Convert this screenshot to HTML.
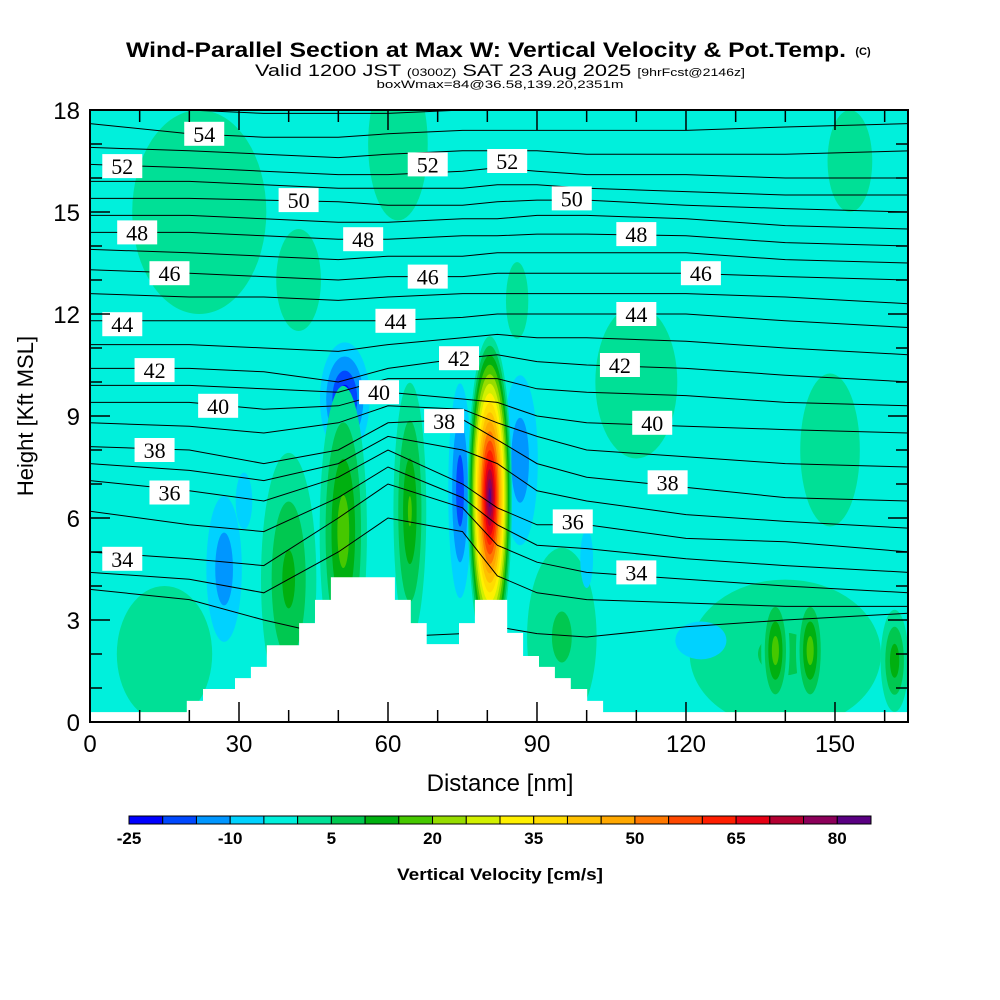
<!DOCTYPE html>
<html><head><meta charset="utf-8"><style>
body{margin:0;background:#fff;}
svg{display:block;font-family:"Liberation Sans",sans-serif;}
</style></head><body>
<svg id="chart" width="1000" height="1000" viewBox="0 0 1000 1000">
<rect width="1000" height="1000" fill="#fff"/>
<text x="486" y="57" text-anchor="middle" font-size="21" font-weight="bold" textLength="720" lengthAdjust="spacingAndGlyphs">Wind-Parallel Section at Max W: Vertical Velocity &amp; Pot.Temp.</text>
<text x="863" y="55" text-anchor="middle" font-size="11" font-weight="bold">(C)</text>
<text x="500" y="76" text-anchor="middle" font-size="17" textLength="490" lengthAdjust="spacingAndGlyphs">Valid 1200 JST <tspan font-size="11">(0300Z)</tspan> SAT 23 Aug 2025 <tspan font-size="11">[9hrFcst@2146z]</tspan></text>
<text x="500" y="88" text-anchor="middle" font-size="11" textLength="247" lengthAdjust="spacingAndGlyphs">boxWmax=84@36.58,139.20,2351m</text>
<defs><clipPath id="plotclip"><rect x="90" y="110" width="818" height="612"/></clipPath></defs>
<g id="fills" clip-path="url(#plotclip)"></g>
<g id="contours" clip-path="url(#plotclip)"></g>
<g id="terrain"></g>
<g id="labels"></g>
<g id="axes"></g>
<g id="colorbar"></g>
<text x="500" y="791" text-anchor="middle" font-size="24">Distance [nm]</text>
<text transform="translate(33,416) rotate(-90)" text-anchor="middle" font-size="22">Height [Kft MSL]</text>
<text x="500" y="880" text-anchor="middle" font-size="17" font-weight="bold" textLength="206" lengthAdjust="spacingAndGlyphs">Vertical Velocity [cm/s]</text>
</svg>
<script>
// ---- data ----
const xTicks=[0,30,60,90,120,150];
const yTicks=[0,3,6,9,12,15,18];
const cbLevels=[-25,-20,-15,-10,-5,0,5,10,15,20,25,30,35,40,45,50,55,60,65,70,75,80,85];
const cbLabels=[-25,-10,5,20,35,50,65,80];
const cbColors=["#0000ff","#0048ff","#0096ff","#00d2ff","#00f0dc","#00e096","#00c850","#00b010","#46c800","#96dc00","#d2f000","#fff000","#ffdc00","#ffc000","#ffa800","#ff7800","#ff4800","#ff1e00","#e60014","#b40032","#8c005a","#5a0082"];
const bgValue=-1;
// blobs: centre x (nm), centre z (kft), radius x (nm), radius z (kft), peak w (cm/s)
const blobX=[22,62,110,149,42,15,153,86,2,140,95,123,100,27,31,51.3,40,51,64.4,74.5,86.6,138,145,162,80.5];
const blobZ=[15,17,10,8,13,2,16.5,12.4,15,2,2.5,2.4,4.8,4.5,6.5,9.5,4.2,5.6,6.2,6.8,7.7,2.1,2.1,1.8,6.6];
const blobRX=[18,8,11,8,6,12,6,3,3,22,8,12,3,5,3,6,6,5,3.5,3,5,3,3,3,4.5];
const blobRZ=[4,3,3,3,2,2.5,2,1.5,3,2.5,3,1.3,2,3,1.5,2,4,4.5,4,4,3.5,1.8,1.8,1.6,4.8];
const blobW=[3,3,3,3,3,4,3,3,-3,7,7,-8,-8,-15,-10,-25,13,20,17,-20,-15,20,20,15,85];
// potential temperature contours: heights (kft) at profile x positions (nm)
const profX=[0,20,35,50,60,75,82,90,100,120,140,165];
const thetaLevels=[32,33,34,35,36,37,38,39,40,41,42,43,44,45,46,47,48,49,50,51,52,53,54,55];
const thetaZ=[
[3.9,3.6,3.0,2.5,2.5,2.6,2.8,2.6,2.5,2.8,3.0,3.2],
[4.4,4.2,3.8,5.0,6.0,5.6,4.3,3.8,3.6,3.5,3.4,3.4],
[5.0,4.8,4.6,6.0,7.0,6.3,5.2,4.7,4.4,4.2,4.0,3.8],
[6.2,5.8,5.6,6.6,7.5,6.6,5.8,5.2,5.1,4.8,4.6,4.4],
[7.1,6.8,6.5,7.2,8.0,7.0,6.3,5.8,5.8,5.4,5.3,5.0],
[7.6,7.4,7.1,7.6,8.4,8.0,7.6,6.8,6.5,6.1,5.9,5.7],
[8.1,8.0,7.6,8.0,8.8,8.9,8.3,7.6,7.2,6.9,6.6,6.5],
[8.8,8.7,8.5,8.8,9.3,9.2,8.8,8.4,8.0,7.8,7.6,7.5],
[9.4,9.4,9.2,9.3,9.7,9.5,9.4,9.0,8.8,8.7,8.6,8.5],
[9.9,9.9,9.8,9.7,10.1,10.1,10.1,9.8,9.7,9.6,9.4,9.3],
[10.4,10.4,10.3,10.0,10.4,10.7,10.8,10.6,10.5,10.4,10.2,10.0],
[11.1,11.1,11.0,10.9,11.1,11.3,11.4,11.3,11.3,11.2,11.0,10.8],
[11.8,11.8,11.8,11.8,11.8,11.9,12.0,12.0,12.0,12.0,11.8,11.6],
[12.6,12.5,12.5,12.4,12.5,12.6,12.6,12.6,12.6,12.6,12.5,12.3],
[13.3,13.2,13.1,13.0,13.1,13.1,13.2,13.2,13.2,13.2,13.1,13.0],
[13.9,13.8,13.7,13.6,13.7,13.7,13.8,13.8,13.8,13.8,13.6,13.5],
[14.4,14.4,14.3,14.2,14.2,14.3,14.3,14.35,14.35,14.3,14.1,14.0],
[14.9,14.9,14.8,14.7,14.7,14.8,14.8,14.9,14.9,14.8,14.6,14.5],
[15.4,15.4,15.35,15.3,15.2,15.2,15.3,15.35,15.35,15.2,15.1,15.0],
[15.9,15.9,15.8,15.7,15.7,15.7,15.8,15.8,15.7,15.6,15.5,15.5],
[16.4,16.3,16.2,16.1,16.1,16.2,16.3,16.2,16.1,16.1,16.0,16.0],
[16.9,16.8,16.7,16.6,16.7,16.8,16.8,16.8,16.7,16.7,16.7,16.8],
[17.6,17.3,17.2,17.2,17.3,17.4,17.4,17.4,17.4,17.4,17.5,17.6],
[18.2,18.0,17.9,17.9,17.9,18.0,18.0,18.0,18.0,18.0,18.1,18.2]
];
const labelVal=[54,52,52,52,50,50,48,48,48,46,46,46,44,44,44,42,42,42,40,40,40,38,38,38,36,36,34,34];
const labelX=[23,6.5,68,84,42,97,9.5,55,110,16,68,123,6.5,61.5,110,13,74.3,106.7,25.8,58.2,113.2,13,71.3,116.3,16,97.2,6.5,110];
const labelZ=[17.3,16.35,16.4,16.5,15.35,15.4,14.4,14.2,14.35,13.2,13.1,13.2,11.7,11.8,12.0,10.35,10.7,10.5,9.3,9.7,8.8,8.0,8.85,7.05,6.75,5.9,4.8,4.4];
const terrainEdges=[0,19.5,22.75,29.2,32.4,35.6,42.1,45.3,48.5,61.4,64.6,67.8,74.3,77.5,84,87.2,90.4,93.6,96.8,100.1,103.3,165];
const terrainLevels=[0.29,0.62,0.97,1.29,1.62,2.26,2.91,3.59,4.26,3.59,2.91,2.29,2.91,3.59,2.62,1.94,1.62,1.29,0.97,0.62,0.29];

// ---- scales ----
const NS="http://www.w3.org/2000/svg";
const X0=90,X1=908,Y0=722,Y1=110,XMAX=164.7,ZMAX=18;
const sx=v=>X0+v*(X1-X0)/XMAX;
const sy=v=>Y0-v*(Y0-Y1)/ZMAX;
function mk(tag,attrs,parent){const e=document.createElementNS(NS,tag);for(const k in attrs)e.setAttribute(k,attrs[k]);parent.appendChild(e);return e;}
function colorFor(w){for(let i=0;i<cbColors.length;i++){if(w<cbLevels[i+1])return cbColors[i];}return cbColors[cbColors.length-1];}

// ---- fills ----
const fills=document.getElementById('fills');
const bg=mk('rect',{x:X0,y:Y1,width:X1-X0,height:Y0-Y1,fill:colorFor(bgValue)},fills);


for(let b=0;b<blobX.length;b++){
  const p=blobW[b];
  const g=mk('g',{},fills);
  
  
  if(p>bgValue){
    for(let i=0;i<cbLevels.length;i++){const L=cbLevels[i];if(L<=bgValue||L>=p)continue;
      const s=(p-L)/(p-bgValue);
      mk('ellipse',{cx:sx(blobX[b]),cy:sy(blobZ[b]),rx:(sx(blobRX[b])-X0)*s,ry:(Y0-sy(blobRZ[b]))*s,fill:cbColors[i]},g);}
  }else{
    for(let i=cbLevels.length-1;i>=0;i--){const L=cbLevels[i];if(L>bgValue||L<=p)continue;
      const s=(L-p)/(bgValue-p);
      mk('ellipse',{cx:sx(blobX[b]),cy:sy(blobZ[b]),rx:(sx(blobRX[b])-X0)*s,ry:(Y0-sy(blobRZ[b]))*s,fill:cbColors[Math.max(i-1,0)]},g);}
  }
}
// ---- contours ----
const cont=document.getElementById('contours');
thetaLevels.forEach((lv,k)=>{
  let d='';profX.forEach((x,j)=>{d+=(j?'L':'M')+sx(x).toFixed(1)+','+sy(thetaZ[k][j]).toFixed(1);});
  const pth=mk('path',{d:d,fill:'none',stroke:'#000','stroke-width':1},cont);
  
  
});
// ---- terrain ----
const ter=document.getElementById('terrain');
let td='M'+sx(0)+','+Y0;
for(let i=0;i<terrainLevels.length;i++){td+='L'+sx(terrainEdges[i]).toFixed(1)+','+sy(terrainLevels[i]).toFixed(1)+'L'+sx(terrainEdges[i+1]).toFixed(1)+','+sy(terrainLevels[i]).toFixed(1);}
td+='L'+X1+','+Y0+'Z';
const tp=mk('path',{d:td,fill:'#fff',stroke:'none'},ter);


// ---- contour labels ----
const lab=document.getElementById('labels');
labelVal.forEach((v,i)=>{
  const g=mk('g',{},lab);
  
  
  const cx=sx(labelX[i]),cy=sy(labelZ[i]);
  mk('rect',{x:cx-20,y:cy-12,width:40,height:24,fill:'#fff'},g);
  const t=mk('text',{x:cx,y:cy+8,'text-anchor':'middle','font-size':22,'font-family':'"Liberation Serif",serif'},g);
  t.textContent=v;
});
// ---- axes ----
const ax=document.getElementById('axes');
const frame=mk('rect',{x:X0,y:Y1,width:X1-X0,height:Y0-Y1,fill:'none',stroke:'#000','stroke-width':2},ax);


for(let v=0;v<=160;v+=10){const x=sx(v),len=(v%30===0)?20:12;
  mk('line',{x1:x,y1:Y0,x2:x,y2:Y0-len,stroke:'#000','stroke-width':1.5},ax);
  mk('line',{x1:x,y1:Y1,x2:x,y2:Y1+len,stroke:'#000','stroke-width':1.5},ax);}
for(let v=0;v<=18;v++){const y=sy(v),len=(v%3===0)?20:12;
  mk('line',{x1:X0,y1:y,x2:X0+len,y2:y,stroke:'#000','stroke-width':1.5},ax);
  mk('line',{x1:X1,y1:y,x2:X1-len,y2:y,stroke:'#000','stroke-width':1.5},ax);}
xTicks.forEach(v=>{const t=mk('text',{x:sx(v),y:752,'text-anchor':'middle','font-size':24},ax);t.textContent=v;
  
  });
yTicks.forEach(v=>{const t=mk('text',{x:80,y:sy(v)+9,'text-anchor':'end','font-size':24},ax);t.textContent=v;
  
  });
// ---- colorbar ----
const cb=document.getElementById('colorbar');
const CB0=129,CB1=871,CBW=(CB1-CB0)/cbColors.length;
cbColors.forEach((c,i)=>{const r=mk('rect',{x:CB0+i*CBW,y:816,width:CBW,height:8,fill:c,stroke:'#000','stroke-width':1},cb);
  
  });
cbLabels.forEach(v=>{const i=cbLevels.indexOf(v);const t=mk('text',{x:CB0+i*CBW,y:844,'text-anchor':'middle','font-size':17,'font-weight':'bold'},cb);t.textContent=v;
  
  });
</script>
</body></html>
